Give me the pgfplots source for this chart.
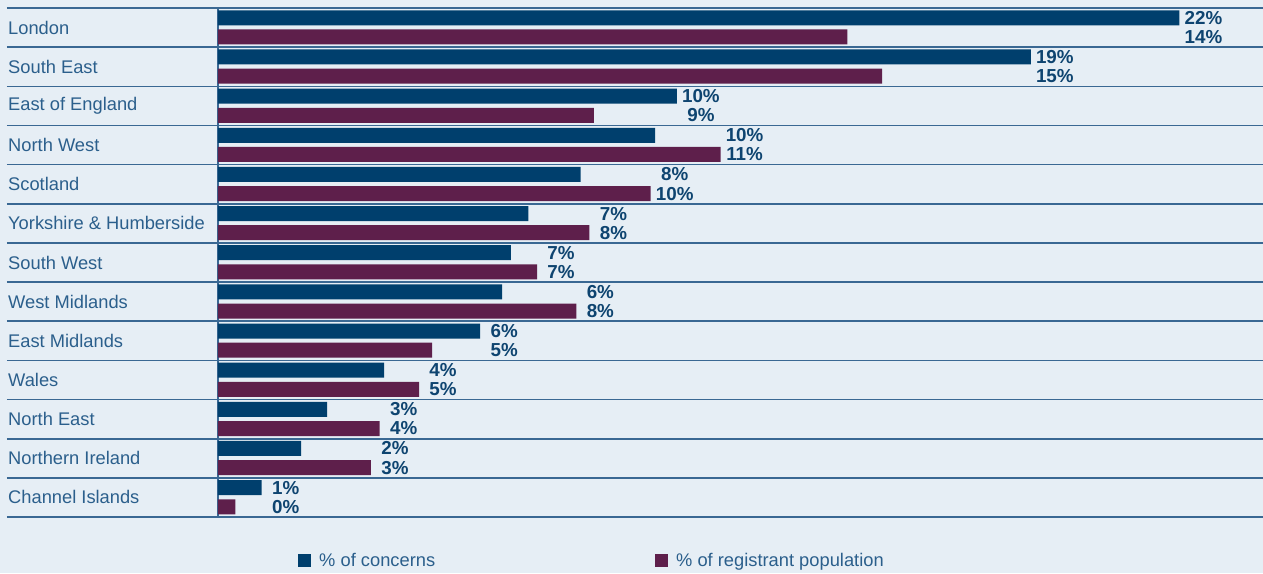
\documentclass[border=0pt]{standalone}
\usepackage{pgfplots}
\pgfplotsset{compat=1.18}
\usepackage{pgfplotstable}
\usepackage{fontspec}
\setmainfont{Liberation Sans}
\usetikzlibrary{backgrounds}
\definecolor{bg}{HTML}{E6EEF5}
\definecolor{cblue}{HTML}{003F6D}
\definecolor{cmaroon}{HTML}{5E1F4B}
\definecolor{txt}{HTML}{2B5F8C}
\definecolor{lab}{HTML}{0E4470}
\definecolor{rule}{HTML}{3A6893}

% concerns, population (percent), label x position, rounded labels
\pgfplotstableread{
idx concerns population labx cl pl
0  22.0 14.4 22.55 22 14
1  18.6 15.2 19.15 19 15
2  10.5  8.6 11.05 10  9
3  10.0 11.5 12.05 10 11
4   8.3  9.9 10.45  8 10
5   7.1  8.5  9.05  7  8
6   6.7  7.3  7.85  7  7
7   6.5  8.2  8.75  6  8
8   6.0  4.9  6.55  6  5
9   3.8  4.6  5.15  4  5
10  2.5  3.7  4.25  3  4
11  1.9  3.5  4.05  2  3
12  1.0  0.4  1.55  1  0
}\data

\begin{document}
\begin{tikzpicture}
\begin{axis}[
  at={(0pt,0pt)}, anchor=south west,
  scale only axis, width=1045pt, height=509pt,
  xmin=0, xmax=23.913, ymin=0, ymax=13,
  y dir=reverse,
  axis line style={draw=none},
  xtick=\empty,
  ytick={0.5,1.5,...,12.5},
  yticklabels={London,South East,East of England,North West,Scotland,Yorkshire \& Humberside,South West,West Midlands,East Midlands,Wales,North East,Northern Ireland,Channel Islands},
  major tick length=0pt,
  yticklabel style={anchor=west, xshift=-210pt, inner sep=0pt, text=txt, font=\fontsize{18.3}{20}\selectfont},
  clip=false,
  xbar, bar width=15pt, bar shift=0pt,
  legend columns=2,
  legend style={at={(axis description cs:0.0766,-0.0864)}, anchor=west, draw=none, fill=none, inner sep=0pt,
    font=\fontsize{18.3}{20}\selectfont, text=txt,
    /tikz/every odd column/.append style={column sep=6pt},
    /tikz/every even column/.append style={column sep=218pt}},
  legend image code/.code={\fill[#1] (0pt,-6.5pt) rectangle (13pt,6.5pt);},
  nodes near coords style={font=\bfseries\fontsize{18.8}{20}\selectfont, text=lab},
  /pgf/number format/assume math mode=true,
]
\pgfplotsinvokeforeach{0,...,13}{
  \draw[rule, line width=1.6pt] (axis cs:-4.83,#1) -- (axis cs:23.913,#1);
}
\draw[rule, line width=1.6pt] (axis cs:0,0) -- (axis cs:0,13);
\addplot[fill=cblue, draw=none] table[x=concerns, y expr=\coordindex+0.25] {\data};
\addlegendentry{\% of concerns}
\addplot[fill=cmaroon, draw=none] table[x=population, y expr=\coordindex+0.74] {\data};
\addlegendentry{\% of registrant population}
\addplot[draw=none, xbar=false, forget plot, point meta=explicit,
  nodes near coords={\pgfmathprintnumber[fixed,precision=0,assume math mode=true]{\pgfplotspointmeta}\%},
  nodes near coords align={center}]
  table[x=labx, y expr=\coordindex+0.25, meta=cl] {\data};
\addplot[draw=none, xbar=false, forget plot, point meta=explicit,
  nodes near coords={\pgfmathprintnumber[fixed,precision=0,assume math mode=true]{\pgfplotspointmeta}\%},
  nodes near coords align={center}]
  table[x=labx, y expr=\coordindex+0.74, meta=pl] {\data};
\end{axis}
\begin{scope}[on background layer]
\fill[bg] (-218pt,-56pt) rectangle (1045pt,517pt);
\end{scope}
\pgfresetboundingbox
\useasboundingbox (-218pt,-56pt) rectangle (1045pt,517pt);
\end{tikzpicture}
\end{document}
